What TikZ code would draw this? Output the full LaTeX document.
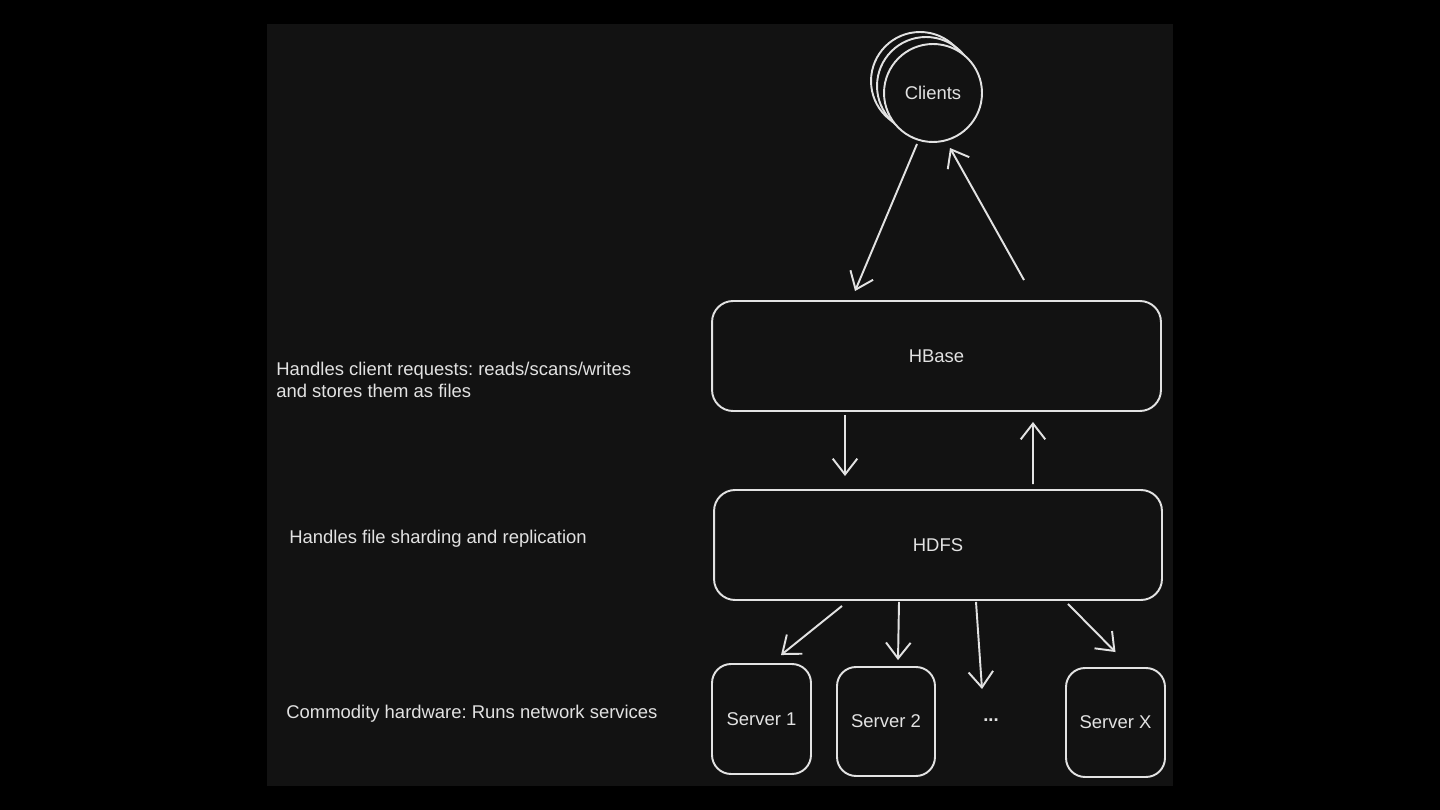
\documentclass[tikz,border=0pt]{standalone}
\usepackage{fontspec}
\setmainfont{Liberation Sans}
\frenchspacing
\usetikzlibrary{arrows.meta,positioning,calc}
\definecolor{panel}{HTML}{121212}
\definecolor{ink}{HTML}{E2E2E2}
\tikzset{
  box/.style={draw=ink,fill=panel,line width=1.1pt,rounded corners=0.42cm,inner sep=0pt,text=ink},
  srv/.style={box,rounded corners=0.38cm,minimum width=1.98cm,minimum height=2.2cm},
  note/.style={text=ink,anchor=west,align=left,inner sep=0pt,font=\fontsize{10.5}{12.5}\selectfont},
  flow/.style={draw=ink,line width=1.1pt,-{Straight Barb[length=9pt,width=14pt,line width=1.1pt]}}
}
\begin{document}
\begin{tikzpicture}[x=0.02cm,y=-0.02cm,font=\fontsize{10.5}{12}\selectfont]
  \fill[black] (0,0) rectangle (1440,810);
  \useasboundingbox (0,0) rectangle (1440,810);
  \fill[panel] (267,24) rectangle (1173,786);
  % Clients: a stack of circles
  \draw[ink,line width=1.1pt] (920,81) circle[radius=0.98cm];
  \draw[ink,line width=1.1pt] (926,86) circle[radius=0.98cm];
  \node[box,circle,minimum size=1.96cm] (clients) at (933,93) {Clients};
  % layers
  \node[box,minimum width=8.98cm,minimum height=2.2cm] (hbase) at (936.5,356) {HBase};
  \node[box,minimum width=8.96cm,minimum height=2.2cm] (hdfs) at (938,545) {HDFS};
  % servers
  \node[srv] (s1) at (761.5,719) {Server 1};
  \node[srv,minimum width=1.96cm,minimum height=2.18cm] (s2) at (886,721.5) {Server 2};
  \node[text=ink] (dots) at (991,720) {\textbf{...}};
  \node[srv,minimum height=2.18cm] (sx) at (1115.5,722.5) {Server X};
  % notes on the left
  \node[note] (n1) at (276,380) {Handles client requests: reads/scans/writes\\and stores them as files};
  \node[note] (n2) at (289,539) {Handles file sharding and replication};
  \node[note] (n3) at (286,714) {Commodity hardware: Runs network services};
  % requests and replies
  \draw[flow] ([shift={(-16,51)}]clients.center) -- ([shift={(-81.5,-9)}]hbase.north);
  \draw[flow] ([shift={(87.5,-20)}]hbase.north) -- ([shift={(17,55)}]clients.center);
  \draw[flow] ([shift={(-91.5,3)}]hbase.south) -- ([shift={(-93,-13)}]hdfs.north);
  \draw[flow] ([shift={(95,-5)}]hdfs.north) -- ([shift={(96.5,10)}]hbase.south);
  % fan out to the machines
  \draw[flow] ([shift={(-96,5)}]hdfs.south) -- ([shift={(19.5,-8)}]s1.north);
  \draw[flow] ([shift={(-39,1)}]hdfs.south) -- ([shift={(12,-6)}]s2.north);
  \draw[flow] ([shift={(38,1)}]hdfs.south) -- ([shift={(-9,-31)}]dots.center);
  \draw[flow] ([shift={(130,3)}]hdfs.south) -- ([shift={(0,-15)}]sx.north);
\end{tikzpicture}
\end{document}
